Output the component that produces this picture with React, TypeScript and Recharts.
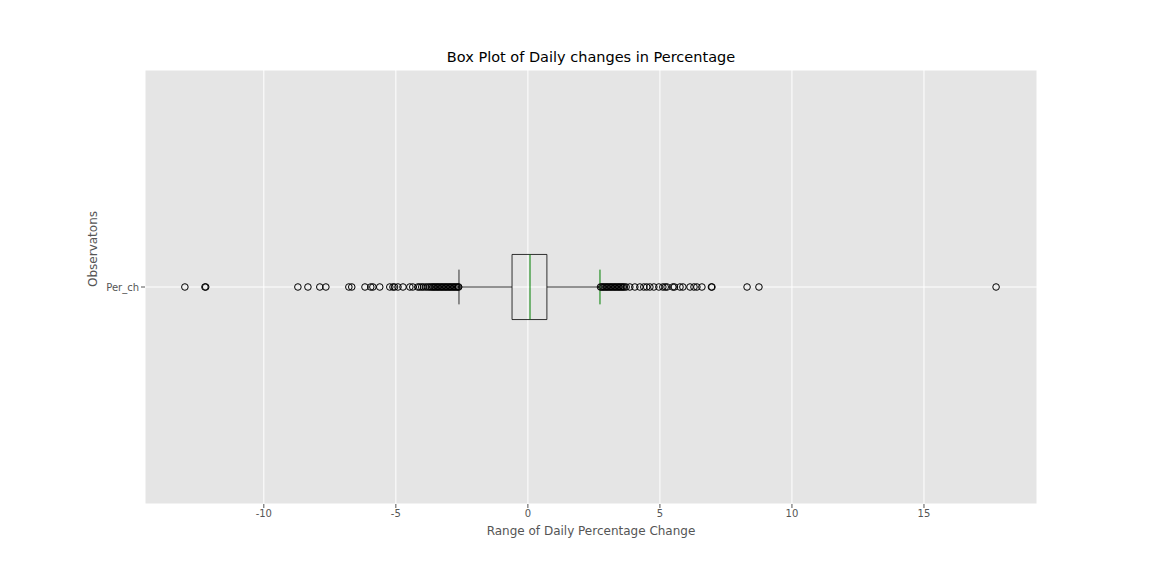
import React from "react";
import { ScatterChart, Scatter, XAxis, YAxis, CartesianGrid, ReferenceArea, ReferenceLine } from "recharts";

const q1 = -0.6, median = 0.08, q3 = 0.72, whiskerLow = -2.61, whiskerHigh = 2.73;
const xTicks = [-10, -5, 0, 5, 10, 15];
const categoryLabel = "Per_ch";
const outliers = [
  -12.99, -12.23, -12.2, -8.71, -8.33, -7.88, -7.65, -6.78, -6.67, -6.17, -5.95, -5.87, -5.61, -5.23, -5.11, -5.05,
  -4.92, -4.73, -4.47, -4.36, -4.17, -4.1, -4.02, -3.95, -3.86, -3.78, -3.71, -3.65, -3.6, -3.55, -3.5, -3.45, -3.4,
  -3.35, -3.3, -3.25, -3.2, -3.15, -3.1, -3.05, -3.0, -2.95, -2.9, -2.85, -2.8, -2.75, -2.7, -2.65, -2.62,
  2.75, 2.8, 2.85, 2.9, 2.95, 3.0, 3.05, 3.1, 3.15, 3.2, 3.25, 3.3, 3.35, 3.4, 3.45, 3.5, 3.55, 3.6, 3.65, 3.72,
  3.86, 4.05, 4.24, 4.39, 4.5, 4.62, 4.77, 4.96, 5.11, 5.2, 5.27, 5.49, 5.55, 5.76, 5.87, 6.14, 6.29, 6.4, 6.59,
  6.95, 6.97, 8.3, 8.75, 17.73,
];
const points = outliers.map((v) => ({ x: v, y: 1 }));

const Ring = (p: any) => <circle cx={p.cx} cy={p.cy} r={3.3} fill="none" stroke="#000" strokeWidth={1} />;

export default function App() {
  return (
    <div style={{ position: "relative", width: 1136, height: 560, fontFamily: "DejaVu Sans" }}>
      <div style={{ position: "absolute", left: 137, width: 892, top: 41, textAlign: "center", fontSize: 14.5, color: "#000" }}>
        Box Plot of Daily changes in Percentage
      </div>
      <ScatterChart width={1136} height={560} margin={{ top: 62, right: 107, bottom: 30, left: 77 }}>
        <CartesianGrid stroke="#fff" strokeWidth={1} fill="#e5e5e5" fillOpacity={1} />
        <XAxis type="number" dataKey="x" domain={[-14.5, 19.28]} ticks={xTicks} allowDataOverflow
          axisLine={false} tickLine={{ stroke: "#555" }} tickSize={4} tick={{ fontSize: 10, fill: "#555" }} height={34}
          label={{ value: "Range of Daily Percentage Change", position: "insideBottom", offset: 3, fontSize: 12, fill: "#555" }} />
        <YAxis type="number" dataKey="y" domain={[0, 2]} ticks={[1]} tickFormatter={() => categoryLabel}
          axisLine={false} tickLine={{ stroke: "#555" }} tickSize={4} tick={{ fontSize: 10, fill: "#555" }} width={60}
          label={{ value: "Observatons", angle: -90, position: "insideLeft", offset: 8, fontSize: 12, fill: "#555" }} />
        <ReferenceLine segment={[{ x: whiskerLow, y: 1 }, { x: q1, y: 1 }]} stroke="#000" strokeWidth={0.8} />
        <ReferenceLine segment={[{ x: q3, y: 1 }, { x: whiskerHigh, y: 1 }]} stroke="#000" strokeWidth={0.8} />
        <ReferenceLine segment={[{ x: whiskerLow, y: 0.92 }, { x: whiskerLow, y: 1.08 }]} stroke="#000" strokeWidth={0.8} />
        <ReferenceLine segment={[{ x: whiskerHigh, y: 0.92 }, { x: whiskerHigh, y: 1.08 }]} stroke="#008000" strokeWidth={1} />
        <ReferenceArea x1={q1} x2={q3} y1={0.85} y2={1.15} fill="none" stroke="#000" strokeWidth={0.8} fillOpacity={0} strokeOpacity={1} />
        <ReferenceLine segment={[{ x: median, y: 0.85 }, { x: median, y: 1.15 }]} stroke="#008000" strokeWidth={1} />
        <Scatter data={points} shape={Ring} isAnimationActive={false} />
      </ScatterChart>
    </div>
  );
}
